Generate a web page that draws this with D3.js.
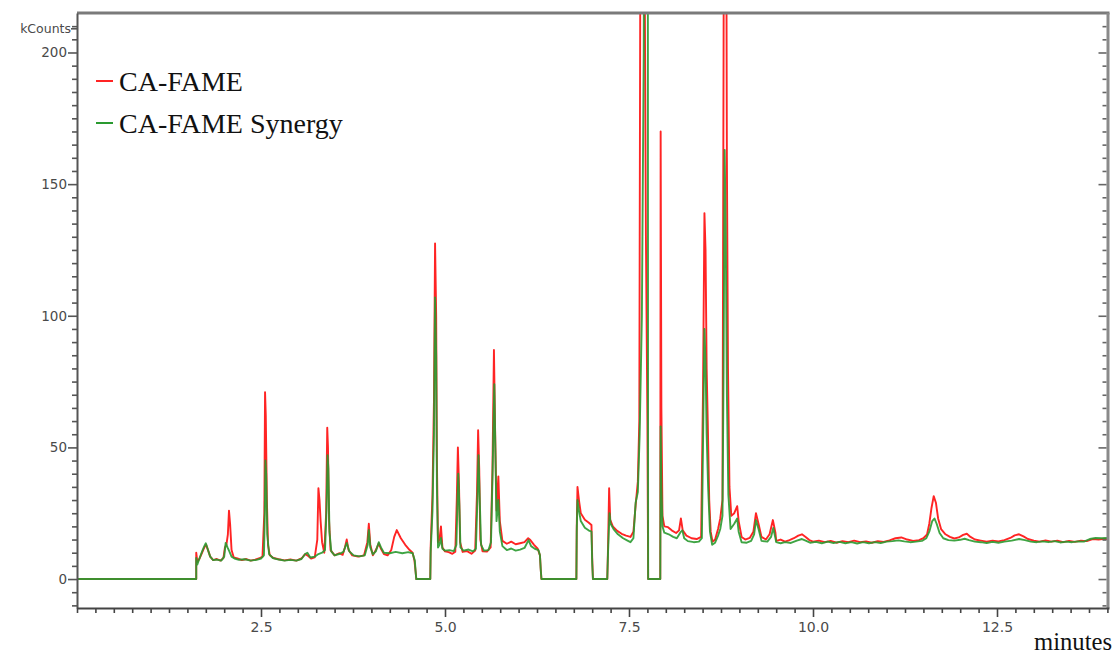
<!DOCTYPE html>
<html>
<head>
<meta charset="utf-8">
<script src="https://cdn.jsdelivr.net/npm/d3@7"></script>
<style>
  html, body { margin: 0; padding: 0; background: #ffffff; }
  svg { display: block; }
</style>
</head>
<body>
<svg id="chart" width="1117" height="657"></svg>
<script>
// Chromatogram traces: [retention time (minutes), signal (kCounts)]
const fameTrace = [
  [0,0],[1.62,0],[1.62,10],[1.635,6.5],[1.66,7.5],[1.7,10],[1.73,12],[1.755,13],[1.78,11],[1.81,8.5],
  [1.85,7.2],[1.9,7.6],[1.95,7],[1.99,8],[2.01,12],[2.03,13],[2.05,17],[2.065,26],[2.08,21],[2.1,11],
  [2.13,8.2],[2.18,7.8],[2.24,7.2],[2.3,7.6],[2.36,7],[2.42,7.4],[2.48,7.9],[2.52,8.5],[2.545,25],[2.555,71],
  [2.565,62],[2.58,30],[2.595,13],[2.62,9],[2.67,8],[2.74,7.5],[2.82,7.1],[2.9,7.4],[2.98,7],[3.05,7.8],
  [3.1,9.5],[3.13,9],[3.18,7.8],[3.23,8.2],[3.265,15],[3.28,34.5],[3.295,30],[3.31,22],[3.33,14],[3.36,10],
  [3.385,25],[3.4,57.5],[3.41,50],[3.425,22],[3.445,11],[3.5,9],[3.56,9.8],[3.61,9.2],[3.64,12],[3.665,15],
  [3.69,11],[3.74,9],[3.82,8.5],[3.9,9],[3.945,14],[3.965,21],[3.985,13],[4.02,9],[4.06,11],[4.1,13.5],
  [4.13,11.5],[4.17,9.5],[4.22,9],[4.27,11],[4.31,16],[4.345,18.6],[4.4,15.5],[4.46,13],[4.52,11],[4.56,10],
  [4.585,7],[4.6,3],[4.61,0],[4.8,0],[4.805,12],[4.83,32],[4.85,68],[4.865,127.5],[4.88,100],[4.89,45],
  [4.905,14],[4.925,15],[4.945,20],[4.965,12],[5.0,10.5],[5.05,10.2],[5.1,9.6],[5.14,10.4],[5.16,30],[5.175,50],
  [5.19,36],[5.205,14],[5.24,10.3],[5.3,10.6],[5.36,9.6],[5.41,10.8],[5.435,33],[5.45,56.5],[5.465,42],[5.48,15],
  [5.51,10.5],[5.57,10.4],[5.62,12],[5.645,42],[5.665,87],[5.68,58],[5.7,26],[5.725,39],[5.745,22],[5.78,14.5],
  [5.84,13.4],[5.9,14.2],[5.96,13.2],[6.02,13.6],[6.08,14],[6.13,15.5],[6.16,14.8],[6.21,13],[6.26,11.5],[6.29,9],
  [6.3,4],[6.31,0],[6.785,0],[6.79,20],[6.8,35],[6.82,30],[6.845,25],[6.9,22.5],[6.95,21.5],[6.99,20.5],
  [7.0,8],[7.01,0],[7.205,0],[7.215,12],[7.23,34.5],[7.245,22.5],[7.28,20],[7.34,18.3],[7.4,17.2],[7.46,16.5],
  [7.52,16],[7.56,18],[7.59,28],[7.62,37],[7.64,60],[7.655,250],[7.67,420],[7.69,380],[7.71,250],[7.73,130],
  [7.75,60],[7.76,0],[7.925,0],[7.93,170],[7.94,65],[7.955,24],[7.98,20],[8.03,19.7],[8.08,18.5],[8.14,17.5],
  [8.18,18.5],[8.205,23],[8.23,18.5],[8.28,16.5],[8.35,15.5],[8.42,15.2],[8.48,16],[8.505,70],[8.525,139],[8.54,125],
  [8.555,80],[8.57,60],[8.59,30],[8.61,18],[8.635,14.2],[8.67,15],[8.71,19],[8.74,23],[8.77,30],[8.785,200],
  [8.8,420],[8.815,330],[8.83,160],[8.845,80],[8.865,35],[8.89,24],[8.93,25],[8.97,27.7],[8.99,22],[9.03,16],
  [9.08,15],[9.14,15.6],[9.19,18],[9.225,25],[9.26,21],[9.3,16],[9.36,15],[9.41,17],[9.455,22.4],[9.49,17.5],
  [9.5,14.5],[9.56,15],[9.62,14.2],[9.68,14.8],[9.74,15.5],[9.8,16.5],[9.85,17],[9.9,16],[9.95,14.8],[10.0,14.2],
  [10.08,14.6],[10.16,14],[10.24,14.5],[10.32,13.8],[10.4,14.4],[10.48,14],[10.56,14.6],[10.64,14],[10.72,14.3],[10.8,13.8],
  [10.88,14.4],[10.96,14.1],[11.04,14.7],[11.12,15.5],[11.2,15.8],[11.28,15],[11.36,14.5],[11.44,14.8],[11.5,15.5],[11.55,17],
  [11.58,21],[11.61,27],[11.64,31.5],[11.67,29],[11.7,23],[11.74,19],[11.8,17],[11.86,16],[11.92,15.4],[11.98,15.8],
  [12.04,16.8],[12.09,17.2],[12.14,16],[12.2,15],[12.28,14.6],[12.36,14.2],[12.44,14.6],[12.52,14.3],[12.6,14.8],[12.68,15.6],
  [12.74,16.6],[12.8,17],[12.86,16.2],[12.92,15.2],[13.0,14.6],[13.08,14.2],[13.16,14.7],[13.24,14.2],[13.32,14.6],[13.4,14],
  [13.48,14.5],[13.56,14.1],[13.64,14.6],[13.72,14.4],[13.8,15.2],[13.88,15],[13.96,15.3],[14,15.2]
];

const synergyTrace = [
  [0,0],[1.62,0],[1.62,8],[1.635,5.5],[1.66,7.5],[1.7,10.5],[1.73,12.5],[1.75,13.6],[1.78,11],[1.81,8.5],
  [1.85,7.2],[1.9,7.4],[1.96,7],[2.0,8.5],[2.02,13.7],[2.045,12],[2.07,10.5],[2.1,8.5],[2.14,7.8],[2.2,7.3],
  [2.28,7.5],[2.36,7],[2.44,7.3],[2.5,7.8],[2.54,9],[2.55,22],[2.56,45],[2.57,40],[2.585,17],[2.61,9.5],
  [2.66,8],[2.74,7.4],[2.82,7],[2.9,7.3],[2.98,7],[3.05,7.6],[3.1,9.5],[3.13,10],[3.17,8.2],[3.23,8.5],
  [3.28,9.5],[3.33,10],[3.37,11],[3.39,26],[3.405,47],[3.415,42],[3.43,18],[3.455,10.5],[3.5,9],[3.56,9.5],
  [3.62,10.3],[3.665,13.7],[3.7,10.5],[3.76,9],[3.84,8.6],[3.91,9],[3.95,13],[3.965,18.6],[3.985,12],[4.02,9.4],
  [4.06,10.5],[4.1,14],[4.13,12],[4.17,10],[4.25,9.8],[4.33,10.3],[4.42,9.8],[4.5,10.2],[4.56,9.8],[4.59,7],
  [4.6,3],[4.61,0],[4.8,0],[4.805,10],[4.83,26],[4.85,55],[4.865,107],[4.88,85],[4.89,35],[4.905,12],
  [4.925,13],[4.945,15.6],[4.965,11.5],[5.0,10.8],[5.06,11],[5.12,10.6],[5.155,13],[5.17,30],[5.18,40],[5.195,28],
  [5.21,12],[5.25,10.8],[5.32,11.2],[5.38,10.5],[5.42,11.5],[5.44,30],[5.455,47],[5.47,32],[5.49,13],[5.53,10.8],
  [5.59,11],[5.625,14],[5.645,38],[5.67,74],[5.685,48],[5.7,22],[5.725,30],[5.745,18],[5.78,12.5],[5.84,11],
  [5.9,11.6],[5.96,10.8],[6.02,11.2],[6.08,11.8],[6.135,14.8],[6.17,12.5],[6.22,11.5],[6.27,11],[6.29,9],[6.3,4],
  [6.31,0],[6.785,0],[6.79,18],[6.8,30],[6.82,26],[6.845,22],[6.9,19.5],[6.95,18.5],[6.99,18],[7.0,6],
  [7.01,0],[7.205,0],[7.215,10],[7.235,25],[7.25,21],[7.29,19],[7.35,17],[7.42,15.5],[7.48,14.6],[7.52,14],
  [7.56,15.5],[7.59,29],[7.62,33],[7.645,55],[7.675,100],[7.7,200],[7.72,420],[7.74,400],[7.755,300],[7.76,0],
  [7.925,0],[7.93,58],[7.94,35],[7.955,20],[7.98,17.6],[8.04,17],[8.1,16],[8.15,15.5],[8.2,17.8],[8.225,18.5],
  [8.25,15.5],[8.3,14.4],[8.38,14],[8.45,14.2],[8.49,15.5],[8.505,50],[8.525,95],[8.54,82],[8.555,55],[8.575,35],
  [8.6,18],[8.63,13],[8.67,13.8],[8.71,16.5],[8.74,19],[8.77,24],[8.785,80],[8.8,163],[8.815,130],[8.83,70],
  [8.85,32],[8.88,19],[8.93,21],[8.97,23],[8.99,18],[9.03,14],[9.1,13.8],[9.16,14.5],[9.2,17],[9.225,22.4],
  [9.26,19],[9.3,14.5],[9.38,14.2],[9.43,16],[9.46,19.4],[9.49,15.5],
  [9.5,14],[9.56,13.6],[9.62,14],[9.7,13.7],[9.78,14.6],[9.85,15.2],[9.9,14.6],[9.96,13.8],[10.04,14.1],[10.12,13.6],
  [10.2,14.2],[10.28,13.7],[10.36,14.1],[10.44,13.6],[10.52,14],[10.6,13.5],[10.68,14],[10.76,13.6],[10.84,14],[10.92,13.7],
  [11.0,14.2],[11.08,14.4],[11.16,14.7],[11.24,14.3],[11.32,14],[11.4,14.2],[11.48,14.5],[11.54,15.5],[11.58,18],[11.62,22],
  [11.65,23],[11.68,21],[11.72,17.5],[11.77,15.5],[11.84,14.8],[11.92,14.6],[12.0,14.9],[12.06,15.3],[12.12,14.8],[12.2,14.2],
  [12.28,14],[12.36,13.7],[12.44,14.1],[12.52,13.8],[12.6,14.2],[12.7,14.6],[12.8,15.2],[12.88,14.8],[12.96,14.2],[13.04,14],
  [13.12,14.3],[13.2,14],[13.28,14.4],[13.36,13.9],[13.44,14.2],[13.52,14],[13.6,14.3],[13.68,14.2],[13.76,15.2],[13.84,15.6],
  [13.92,15.5],[14,15.6]
];

const seriesNames = ["CA-FAME", "CA-FAME Synergy"];
const seriesColors = ["#ff2424", "#2a9a30"];
const xLabelTicks = [2.5, 5.0, 7.5, 10.0, 12.5];
const yLabelTicks = [0, 50, 100, 150, 200];
const yUnitLabel = "kCounts";
const xUnitLabel = "minutes";

const svg = d3.select("#chart");
const plot = { left: 77, right: 1108, top: 13, bottom: 608 };

const x = d3.scaleLinear().domain([0, 14]).range([plot.left, plot.left + 14 * 73.6]);
const y = d3.scaleLinear().domain([-11, 215]).range([plot.bottom, plot.top]);

svg.append("defs").append("clipPath").attr("id", "plot-clip")
  .append("rect")
  .attr("x", plot.left).attr("y", plot.top)
  .attr("width", plot.right - plot.left).attr("height", plot.bottom - plot.top);

// Traces
const line = d3.line().x(d => x(d[0])).y(d => y(d[1]));
const traces = svg.append("g").attr("clip-path", "url(#plot-clip)");
traces.append("path").datum(fameTrace)
  .attr("d", line).attr("fill", "none")
  .attr("stroke", seriesColors[0]).attr("stroke-width", 1.9).attr("stroke-linejoin", "round");
traces.append("path").datum(synergyTrace)
  .attr("d", line).attr("fill", "none")
  .attr("stroke", seriesColors[1]).attr("stroke-width", 1.9).attr("stroke-linejoin", "round")
  .attr("stroke-opacity", 0.9);

// Frame: top and right edges
svg.append("line").attr("x1", plot.left).attr("x2", plot.right + 1.5)
  .attr("y1", plot.top).attr("y2", plot.top)
  .attr("stroke", "#7a7a7a").attr("stroke-width", 3);
svg.append("line").attr("x1", plot.right).attr("x2", plot.right)
  .attr("y1", plot.top).attr("y2", plot.bottom)
  .attr("stroke", "#8a8a8a").attr("stroke-width", 3);

const labelFont = "'DejaVu Sans', sans-serif";
const yMinor = d3.range(-10, 215, 5);
const xMinor = d3.range(0, 14.01, 0.25);

// Left axis
const yAxis = d3.axisLeft(y)
  .tickValues(yMinor)
  .tickSizeOuter(0)
  .tickFormat(d => yLabelTicks.includes(d) ? String(d) : "");
const gy = svg.append("g").attr("transform", `translate(${plot.left},0)`).call(yAxis);
gy.select(".domain").attr("stroke", "#555").attr("stroke-width", 2);
gy.selectAll(".tick line")
  .attr("x2", d => yLabelTicks.includes(d) ? -9 : -5)
  .attr("stroke", "#555").attr("stroke-width", 1.6);
gy.selectAll(".tick text")
  .attr("x", -10)
  .attr("font-family", labelFont).attr("font-size", 13.5)
  .attr("fill", "#4a4a4a");

// Unit label at the top of the left axis
svg.append("line").attr("x1", plot.left - 6).attr("x2", plot.left)
  .attr("y1", y(209)).attr("y2", y(209)).attr("stroke", "#555").attr("stroke-width", 1.6);
svg.append("text").attr("x", plot.left - 6).attr("y", y(209)).attr("dy", "0.35em")
  .attr("text-anchor", "end")
  .attr("font-family", labelFont).attr("font-size", 12.5).attr("fill", "#4a4a4a")
  .text(yUnitLabel);

// Right axis (ticks only, pointing inward)
const yAxisRight = d3.axisLeft(y).tickValues(yMinor).tickSizeOuter(0).tickFormat("");
const gyr = svg.append("g").attr("transform", `translate(${plot.right - 1.5},0)`).call(yAxisRight);
gyr.select(".domain").remove();
gyr.selectAll(".tick line")
  .attr("x2", d => yLabelTicks.includes(d) ? -8 : -4)
  .attr("stroke", "#666").attr("stroke-width", 1.6);

// Bottom axis
const xAxis = d3.axisBottom(x)
  .tickValues(xMinor)
  .tickSizeOuter(0)
  .tickFormat(d => xLabelTicks.some(v => Math.abs(v - d) < 1e-9) ? d.toFixed(1) : "");
const gx = svg.append("g").attr("transform", `translate(0,${plot.bottom})`).call(xAxis);
gx.select(".domain").attr("stroke", "#444").attr("stroke-width", 2)
  .attr("d", `M${plot.left},0.5H${plot.right + 1.5}`);
gx.selectAll(".tick line")
  .attr("y2", d => xLabelTicks.some(v => Math.abs(v - d) < 1e-9) ? 9 : 5)
  .attr("stroke", "#444").attr("stroke-width", 1.6);
gx.selectAll(".tick text")
  .attr("y", 14)
  .attr("font-family", labelFont).attr("font-size", 14)
  .attr("fill", "#4a4a4a");

// Axis title
svg.append("text")
  .attr("x", 1112).attr("y", 650)
  .attr("text-anchor", "end")
  .attr("font-family", "'Liberation Serif', 'Times New Roman', serif")
  .attr("font-size", 25)
  .attr("textLength", 78).attr("lengthAdjust", "spacingAndGlyphs")
  .attr("fill", "#111")
  .text(xUnitLabel);

// Legend
const legend = svg.append("g");
seriesNames.forEach((name, i) => {
  const cy = 81 + i * 42;
  legend.append("line")
    .attr("x1", 96).attr("x2", 113).attr("y1", cy).attr("y2", cy)
    .attr("stroke", seriesColors[i]).attr("stroke-width", 2);
  legend.append("text")
    .attr("x", 119).attr("y", cy + 10)
    .attr("font-family", "'Liberation Serif', 'Times New Roman', serif")
    .attr("font-size", 28)
    .attr("fill", "#111")
    .text(name);
});
</script>
</body>
</html>
